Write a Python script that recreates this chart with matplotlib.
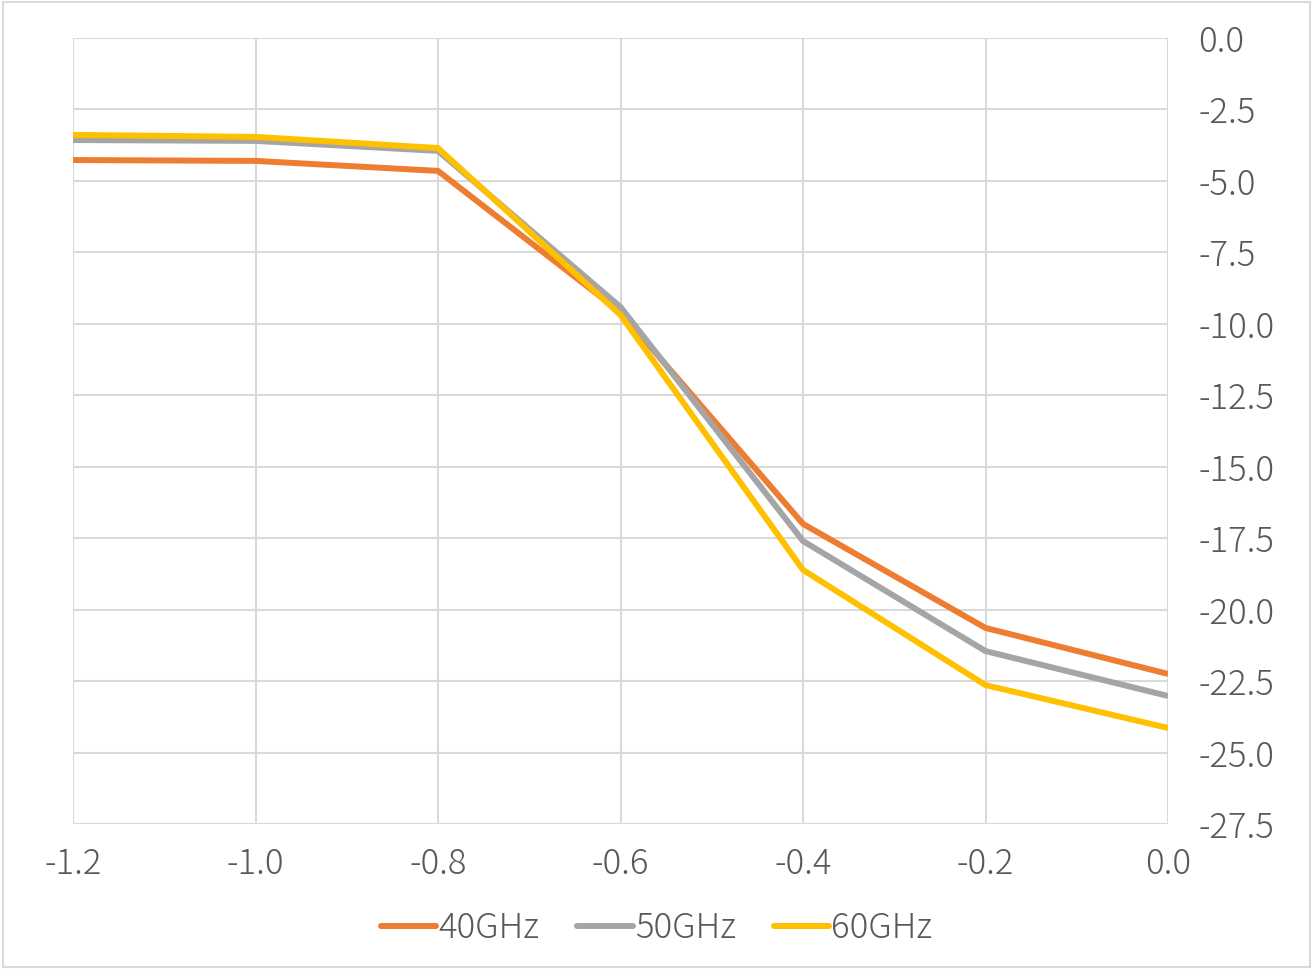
import matplotlib
matplotlib.use('Agg')
import matplotlib.pyplot as plt
from matplotlib.patches import Rectangle

plt.rcParams['font.family'] = ['Noto Sans CJK JP', 'DejaVu Sans']
plt.rcParams['font.weight'] = 'light'

x = [-1.2, -1.0, -0.8, -0.6, -0.4, -0.2, 0.0]
s40 = [-4.27, -4.30, -4.65, -9.59, -17.0, -20.64, -22.25]
s50 = [-3.57, -3.60, -3.95, -9.41, -17.6, -21.45, -23.02]
s60 = [-3.39, -3.46, -3.85, -9.69, -18.61, -22.64, -24.14]
names = ['40GHz', '50GHz', '60GHz']
colors = ['#ED7D31', '#A5A5A5', '#FFC000']
yticks = [0.0, -2.5, -5.0, -7.5, -10.0, -12.5, -15.0, -17.5, -20.0, -22.5, -25.0, -27.5]
xticks = [-1.2, -1.0, -0.8, -0.6, -0.4, -0.2, 0.0]

fig = plt.figure(figsize=(13.13, 9.69), dpi=100)
ax = fig.add_axes([73 / 1313, 1 - 824 / 969, 1095 / 1313, 786 / 969])
fig.patches.append(Rectangle((0.002, 0.002), 0.996, 0.996, transform=fig.transFigure,
                             fill=False, ec='#D9D9D9', lw=1.5))

for ys, nm, c in zip([s40, s50, s60], names, colors):
    ax.plot(x, ys, color=c, lw=4.3, label=nm, solid_capstyle='butt', solid_joinstyle='miter')

ax.set_xlim(-1.2, 0.0)
ax.set_ylim(-27.5, 0.0)
ax.set_xticks(xticks)
ax.set_xticklabels([f'{v:.1f}' for v in xticks])
ax.set_yticks(yticks)
ax.set_yticklabels([f'{v:.1f}' for v in yticks])
ax.yaxis.tick_right()
ax.grid(True, color='#D9D9D9', lw=1.5)
ax.set_axisbelow(True)
for sp in ax.spines.values():
    sp.set_visible(False)
ax.tick_params(length=0, labelsize=25, labelcolor='#595959')
ax.tick_params(axis='y', pad=22)
ax.tick_params(axis='x', pad=16)

leg = fig.legend(loc='center', bbox_to_anchor=(0.5, 1 - 928 / 969), ncol=3, frameon=False,
                 fontsize=25, handlelength=1.6, handletextpad=0.05, columnspacing=1.1,
                 labelcolor='#595959')
for h in leg.get_lines():
    h.set_solid_capstyle('round')

fig.savefig('out.png', dpi=100)
